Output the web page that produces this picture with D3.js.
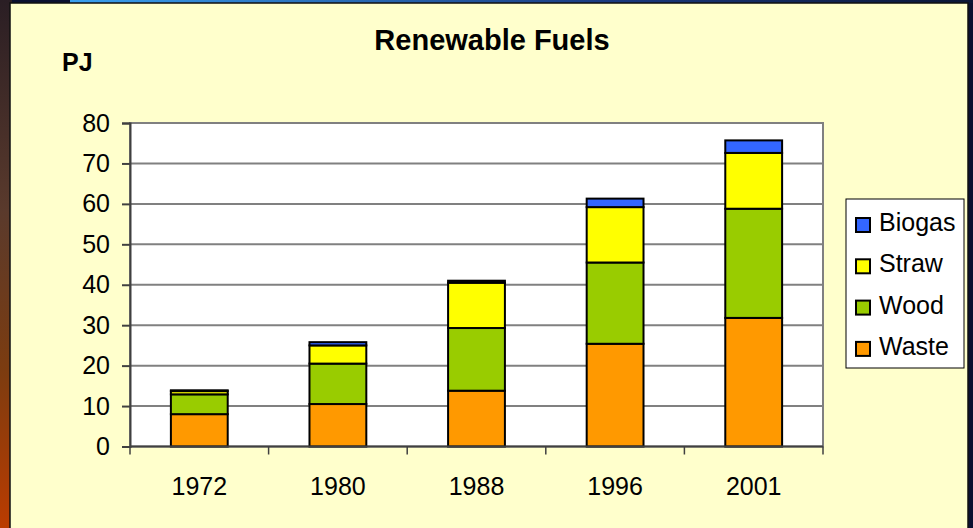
<!DOCTYPE html>
<html>
<head>
<meta charset="utf-8">
<script src="https://cdn.jsdelivr.net/npm/d3@7"></script>
<style>
  body { margin: 0; background: #0a1030; }
  svg { display: block; font-family: Arial, "Liberation Sans", sans-serif; }
</style>
</head>
<body>
<script>
// data (PJ)
const years = ['1972', '1980', '1988', '1996', '2001'];
const fuels = ['Waste', 'Wood', 'Straw', 'Biogas'];
const waste = [8, 10.5, 13.8, 25.4, 31.8];
const wood = [4.9, 10, 15.5, 20.1, 27];
const straw = [0.8, 4.5, 11.2, 13.7, 13.8];
const biogas = [0.2, 0.8, 0.5, 2.1, 3.1];
const yTicks = [0, 10, 20, 30, 40, 50, 60, 70, 80];

const colors = {Waste: '#ff9900', Wood: '#99cc00', Straw: '#ffff00', Biogas: '#3366ff'};

const width = 973, height = 528;
const plot = {left: 130, right: 823, top: 123, bottom: 446.5};

const rows = years.map((y, i) => ({year: y, Waste: waste[i], Wood: wood[i], Straw: straw[i], Biogas: biogas[i]}));

const svg = d3.select('body').append('svg')
    .attr('width', width)
    .attr('height', height);

// backdrop: slide background around the panel
const defs = svg.append('defs');
const leftGrad = defs.append('linearGradient').attr('id', 'leftGrad')
    .attr('x1', 0).attr('y1', 0).attr('x2', 0).attr('y2', 1);
leftGrad.append('stop').attr('offset', '0%').attr('stop-color', '#2a1e24');
leftGrad.append('stop').attr('offset', '40%').attr('stop-color', '#5a3a2c');
leftGrad.append('stop').attr('offset', '70%').attr('stop-color', '#7c3c10');
leftGrad.append('stop').attr('offset', '100%').attr('stop-color', '#bb3c00');
const topGrad = defs.append('linearGradient').attr('id', 'topGrad');
topGrad.append('stop').attr('offset', '0%').attr('stop-color', '#3aa0f0');
topGrad.append('stop').attr('offset', '60%').attr('stop-color', '#1a3a80');
topGrad.append('stop').attr('offset', '100%').attr('stop-color', '#0a1535');

svg.append('rect').attr('width', width).attr('height', height).attr('fill', '#0a1030');
svg.append('rect').attr('width', 12).attr('height', height).attr('fill', 'url(#leftGrad)');
svg.append('rect').attr('x', 70).attr('width', width - 70).attr('height', 3).attr('fill', 'url(#topGrad)');

// chart panel
svg.append('rect')
    .attr('x', 10).attr('y', 3)
    .attr('width', 958).attr('height', height)
    .attr('fill', '#ffffcc')
    .attr('stroke', '#111').attr('stroke-width', 1.5);

const x = d3.scaleBand()
    .domain(years)
    .range([plot.left, plot.right])
    .paddingInner(0.59)
    .paddingOuter(0.295);

const y = d3.scaleLinear()
    .domain([0, 80])
    .range([plot.bottom, plot.top]);

// plot area
svg.append('rect')
    .attr('x', plot.left).attr('y', plot.top)
    .attr('width', plot.right - plot.left).attr('height', plot.bottom - plot.top)
    .attr('fill', '#fff')
    .attr('stroke', '#808080').attr('stroke-width', 2);

// gridlines
svg.append('g')
    .selectAll('line')
    .data(yTicks.slice(1))
    .join('line')
    .attr('x1', plot.left).attr('x2', plot.right)
    .attr('y1', d => y(d)).attr('y2', d => y(d))
    .attr('stroke', '#808080').attr('stroke-width', 2);

// stacked bars
const stacked = d3.stack().keys(fuels)(rows);
svg.append('g')
    .selectAll('g')
    .data(stacked)
    .join('g')
    .attr('fill', d => colors[d.key])
    .selectAll('rect')
    .data(d => d)
    .join('rect')
    .attr('x', d => x(d.data.year))
    .attr('y', d => y(d[1]))
    .attr('width', x.bandwidth())
    .attr('height', d => y(d[0]) - y(d[1]))
    .attr('stroke', '#000')
    .attr('stroke-width', 2);

// y axis
const yAxis = svg.append('g')
    .attr('transform', `translate(${plot.left},0)`)
    .call(d3.axisLeft(y).tickValues(yTicks).tickSize(8).tickPadding(12));
yAxis.select('.domain').attr('stroke', '#404040').attr('stroke-width', 2);
yAxis.selectAll('.tick line').attr('stroke', '#404040').attr('stroke-width', 2);
yAxis.selectAll('text').attr('font-size', 25).attr('fill', '#000')
    .attr('font-family', 'Arial, "Liberation Sans", sans-serif');

// x axis: ticks between categories
const step = x.step();
const xAxis = svg.append('g')
    .attr('transform', `translate(0,${plot.bottom})`);
xAxis.append('line')
    .attr('x1', plot.left).attr('x2', plot.right)
    .attr('stroke', '#404040').attr('stroke-width', 2);
xAxis.selectAll('line.tick')
    .data(d3.range(years.length + 1))
    .join('line')
    .attr('class', 'tick')
    .attr('x1', i => plot.left + i * step).attr('x2', i => plot.left + i * step)
    .attr('y1', 0).attr('y2', 8)
    .attr('stroke', '#404040').attr('stroke-width', 1.5);
xAxis.selectAll('text')
    .data(years)
    .join('text')
    .attr('x', d => x(d) + x.bandwidth() / 2)
    .attr('y', 48.5)
    .attr('text-anchor', 'middle')
    .attr('font-size', 25)
    .text(d => d);

// title and unit
svg.append('text')
    .attr('x', 492).attr('y', 50)
    .attr('text-anchor', 'middle')
    .attr('font-size', 29).attr('font-weight', 'bold')
    .text('Renewable Fuels');
svg.append('text')
    .attr('x', 62).attr('y', 71)
    .attr('font-size', 25).attr('font-weight', 'bold')
    .text('PJ');

// legend
const legend = svg.append('g');
legend.append('rect')
    .attr('x', 846).attr('y', 199)
    .attr('width', 118).attr('height', 169)
    .attr('fill', '#fff').attr('stroke', '#000').attr('stroke-width', 1);
const items = legend.selectAll('g.item')
    .data(fuels.slice().reverse())
    .join('g')
    .attr('class', 'item')
    .attr('transform', (d, i) => `translate(0,${231 + i * 41.3})`);
items.append('rect')
    .attr('x', 856).attr('y', -13)
    .attr('width', 14).attr('height', 14)
    .attr('fill', d => colors[d])
    .attr('stroke', '#000').attr('stroke-width', 2);
items.append('text')
    .attr('x', 879).attr('y', 0)
    .attr('font-size', 25)
    .text(d => d);
</script>
</body>
</html>
